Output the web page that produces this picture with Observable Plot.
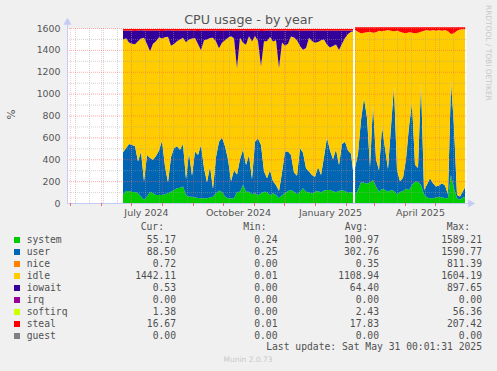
<!DOCTYPE html>
<html><head><meta charset="utf-8">
<script src="https://cdn.jsdelivr.net/npm/d3@7"></script>
<script src="https://cdn.jsdelivr.net/npm/@observablehq/plot@0.6"></script>
<style>
html,body{margin:0;padding:0;background:#f0f0f0;}
#wrap{position:relative;width:497px;height:371px;overflow:hidden;font-family:"DejaVu Sans",sans-serif;}
#wrap svg{position:absolute;left:0;top:0;}
.t{position:absolute;white-space:pre;}
.mono{font-family:"DejaVu Sans Mono",monospace;font-size:9.7px;line-height:12px;color:#505050;}
</style></head><body><div id="wrap"></div>
<script>
// ---- data ----
const dates = [
"2024-06-23","2024-06-26","2024-06-29","2024-07-02","2024-07-05","2024-07-08","2024-07-11","2024-07-14","2024-07-17","2024-07-20",
"2024-07-23","2024-07-26","2024-07-29","2024-08-01","2024-08-04","2024-08-07","2024-08-10","2024-08-13","2024-08-16","2024-08-19",
"2024-08-22","2024-08-25","2024-08-28","2024-08-31","2024-09-03","2024-09-06","2024-09-09","2024-09-12","2024-09-15","2024-09-18",
"2024-09-21","2024-09-24","2024-09-27","2024-09-30","2024-10-03","2024-10-06","2024-10-09","2024-10-12","2024-10-15","2024-10-18",
"2024-10-21","2024-10-24","2024-10-27","2024-10-30","2024-11-02","2024-11-05","2024-11-08","2024-11-11","2024-11-14","2024-11-17",
"2024-11-20","2024-11-23","2024-11-26","2024-11-29","2024-12-02","2024-12-05","2024-12-08","2024-12-11","2024-12-14","2024-12-17",
"2024-12-20","2024-12-23","2024-12-26","2024-12-29","2025-01-01","2025-01-04","2025-01-07","2025-01-10","2025-01-13","2025-01-16",
"2025-01-19","2025-01-22","2025-01-25","2025-01-28","2025-01-31","2025-02-03","2025-02-06","2025-02-08",
"2025-02-10","2025-02-13","2025-02-16","2025-02-19","2025-02-22","2025-02-25","2025-02-28","2025-03-03","2025-03-06","2025-03-09",
"2025-03-12","2025-03-15","2025-03-18","2025-03-21","2025-03-24","2025-03-27","2025-03-30","2025-04-02","2025-04-05","2025-04-08",
"2025-04-11","2025-04-14","2025-04-17","2025-04-20","2025-04-23","2025-04-26","2025-04-29","2025-05-02","2025-05-05","2025-05-08",
"2025-05-11","2025-05-14","2025-05-17","2025-05-20","2025-05-23","2025-05-26","2025-05-29","2025-05-31"
];
const system = [
74,110,110,100,100,90,60,30,60,104, 90,74,74,74,80,90,104,120,135,140, 150,70,58,58,50,45,43,43,43,50,
58,90,115,100,60,43,43,43,100,104, 165,104,104,80,90,70,90,104,100,70, 90,73,43,70,90,110,120,104,80,104,
134,104,96,88,104,110,97,115,120,120, 108,99,112,115,110,92,101,96,
73,120,190,185,175,190,210,150,104,130, 120,104,120,110,80,100,110,130,120,165, 195,195,165,80,50,43,43,50,58,50,
45,43,256,130,43,30,50,55
];
const user = [
389,390,430,430,420,290,410,170,380,307, 305,356,406,496,254,100,316,380,383,347, 390,150,402,192,420,395,487,277,147,284,
72,330,445,500,460,357,157,257,160,296, 325,243,336,140,470,520,440,186,126,230, 110,92,67,210,380,360,319,176,170,396,
326,213,191,168,136,220,159,305,480,360, 292,391,235,425,450,388,349,204,
247,330,570,775,605,140,690,250,196,570, 380,206,580,960,220,100,120,270,580,755, 155,125,935,40,120,183,137,100,102,130,
115,37,854,570,30,30,60,89
];
const idle = [
1032,1007,928,926,932,1099,1035,1311,1014,976, 1062,1050,1035,935,1182,1329,1017,954,960,1009, 970,1250,1035,1254,1039,1013,866,1168,1305,1174,
1381,1057,854,866,968,1110,1324,1206,972,1110, 975,1101,1085,1257,968,889,717,1188,1253,1218, 1276,1322,1122,1187,968,986,1083,1234,1237,935,
941,1101,1224,1226,1226,1143,1231,1075,847,941, 1035,959,1053,917,948,1066,1115,1268,
1261,1116,791,596,781,1236,656,1161,1276,871, 1076,1271,876,501,1276,1366,1326,1151,861,636, 1201,1236,466,1456,1411,1350,1401,1426,1421,1396,
1421,1491,436,851,1503,1526,1478,1445
];
const iowait = [
82,67,110,120,120,98,75,67,120,189, 120,98,60,67,60,60,140,120,98,82, 67,105,82,75,67,120,180,90,82,67,
67,100,160,110,90,67,55,70,342,67, 113,128,52,98,50,98,326,98,98,60, 100,90,342,110,140,120,55,65,90,140,
175,159,67,95,110,105,90,80,130,155, 143,128,174,120,70,30,12,10,
0,0,0,0,0,0,0,0,0,0, 0,0,0,0,0,0,0,0,0,0, 0,0,0,0,0,0,0,0,0,0,
0,0,0,0,0,0,0,0
];
const steal = [
15,18,14,16,20,15,12,14,18,16, 15,14,17,20,16,13,15,18,16,14, 15,17,15,13,16,19,16,14,15,17,
14,15,18,16,14,15,13,16,18,15, 14,16,15,17,14,15,19,16,15,14, 16,15,18,15,14,16,15,13,15,17,
16,15,14,15,16,14,15,17,15,16, 14,15,18,15,14,16,15,14,
25,40,55,50,45,40,50,45,30,35, 30,25,30,35,30,40,50,55,45,50, 55,50,40,30,25,30,25,30,25,30,
25,35,60,55,30,20,18,17
];
const gapDate = "2025-02-09"; // no data recorded around this day

const seriesNames  = ["system","user","nice","idle","iowait","irq","softirq","steal","guest"];
const seriesColors = ["#00CC00","#0066B3","#FF8000","#FFCC00","#330099","#990099","#CCFF00","#FF0000","#808080"];
const curValues = [55.17, 88.50, 0.72, 1442.11, 0.53, 0.00, 1.38, 16.67, 0.00];
const minValues = [0.24, 0.25, 0.00, 0.01, 0.00, 0.00, 0.00, 0.01, 0.00];
const avgValues = [100.97, 302.76, 0.35, 1108.94, 64.40, 0.00, 2.43, 17.83, 0.00];
const maxValues = [1589.21, 1590.77, 811.39, 1604.19, 897.65, 0.00, 56.36, 207.42, 0.00];
const legendHeaders = ["Cur:", "Min:", "Avg:", "Max:"];

const yTickValues = [0, 200, 400, 600, 800, 1000, 1200, 1400, 1600];
const yMinorValues = [100, 300, 500, 700, 900, 1100, 1300, 1500];
const xLabelDates = ["2024-07-16", "2024-10-16", "2025-01-16", "2025-04-16"];
const xTickLabels = ["July 2024", "October 2024", "January 2025", "April 2025"];

const titleText = "CPU usage - by year";
const yLabelText = "%";
const sideText = "RRDTOOL / TOBI OETIKER";
const lastUpdateText = "Last update: Sat May 31 00:01:31 2025";
const footerText = "Munin 2.0.73";

// ---- build ----
const xStart = new Date("2024-04-28"), xEnd = new Date("2025-06-01");
const arrowX = new Date("2025-06-05");
const gap = new Date(gapDate);
const drawn = [["system", system], ["user", user], ["idle", idle], ["iowait", iowait], ["steal", steal]];
const rows = [];
for (const [name, vals] of drawn) {
  dates.forEach((d, i) => {
    const date = new Date(d);
    rows.push({date, series: name, key: name + (date < gap ? "-a" : "-b"), value: vals[i]});
  });
}
const majorGridX = d3.utcMonth.range(new Date("2024-05-01"), xEnd);
const minorGridX = d3.utcDay.range(new Date("2024-05-06"), xEnd, 14);
const labelByTime = new Map(xLabelDates.map((d, i) => [+new Date(d), xTickLabels[i]]));

const minorColor = "rgba(160,160,160,0.45)";
const majorColorH = "rgba(255,90,90,0.5)";
const majorColorV = "rgba(255,90,90,0.3)";
const axisColor = "#c4ccf5";

const chart = Plot.plot({
  width: 497, height: 225,
  marginLeft: 67, marginRight: 31, marginTop: 28, marginBottom: 22,
  style: {background: "transparent", fontFamily: "DejaVu Sans", fontSize: "9.4px", overflow: "visible"},
  x: {type: "utc", domain: [xStart, xEnd]},
  y: {domain: [0, 1600]},
  color: {type: "ordinal", domain: seriesNames, range: seriesColors},
  marks: [
    Plot.frame({fill: "white", stroke: "none"}),
    Plot.areaY(rows, {x: "date", y: "value", z: "key", fill: "series"}),
    Plot.ruleX(minorGridX, {stroke: minorColor, strokeDasharray: "1,1"}),
    Plot.ruleY(yMinorValues, {stroke: minorColor, strokeDasharray: "1,1"}),
    Plot.ruleX(majorGridX, {stroke: majorColorV, strokeDasharray: "1,1"}),
    Plot.ruleY(yTickValues.filter(v => v > 0), {stroke: majorColorH, strokeDasharray: "1,1"}),
    Plot.ruleY([0], {x1: xStart, x2: arrowX, stroke: axisColor}),
    Plot.ruleX([xStart], {y1: 0, y2: 1640, stroke: axisColor}),
    Plot.dot([0], {x: [arrowX], y: [0], symbol: "triangle", r: 3, fill: axisColor, stroke: "none", rotate: 90}),
    Plot.dot([0], {x: [xStart], y: [1655], symbol: "triangle", r: 3, fill: axisColor, stroke: "none"}),
    Plot.axisY(yTickValues, {tickSize: 0, tickPadding: 7, fill: "#555", fontSize: 9.4, label: null, tickFormat: d => String(d)}),
    Plot.axisX(majorGridX, {tickSize: 3, stroke: "#e07070", tickFormat: () => "", label: null}),
    Plot.axisX(xLabelDates.map(d => new Date(d)), {tickSize: 0, tickPadding: 6, fill: "#555", fontSize: 9.5,
      tickFormat: d => labelByTime.get(+d), label: null})
  ]
});

const wrap = document.getElementById("wrap");
wrap.appendChild(chart);

function addText(txt, cls, style) {
  const el = document.createElement("div");
  el.className = "t " + (cls || "");
  el.textContent = txt;
  Object.assign(el.style, style);
  wrap.appendChild(el);
  return el;
}
addText(titleText, "", {left: "0px", top: "12px", width: "497px", textAlign: "center", fontSize: "12.7px", lineHeight: "15px", color: "#555"});
addText(yLabelText, "", {left: "1px", top: "108px", width: "20px", height: "13px", lineHeight: "13px", textAlign: "center", fontSize: "10.5px", color: "#555", transform: "rotate(-90deg)"});
addText(sideText, "", {left: "484px", top: "5px", writingMode: "vertical-rl", fontSize: "7.45px", lineHeight: "9px", color: "#c8c8c8"});

const valueRight = [176, 277.5, 379, 482];
const headerRight = [164, 266.5, 368, 470];
legendHeaders.forEach((h, j) => addText(h, "mono", {right: (497 - headerRight[j]) + "px", top: "221px"}));
const cols = [curValues, minValues, avgValues, maxValues];
seriesNames.forEach((name, i) => {
  const yc = 240 + 12 * i;
  const sw = document.createElement("div");
  Object.assign(sw.style, {position: "absolute", left: "14px", top: (yc - 3) + "px", width: "6px", height: "6px", background: seriesColors[i]});
  wrap.appendChild(sw);
  addText(name, "mono", {left: "26.7px", top: (yc - 6) + "px"});
  cols.forEach((arr, j) => addText(arr[i].toFixed(2), "mono", {right: (497 - valueRight[j]) + "px", top: (yc - 6) + "px"}));
});
addText(lastUpdateText, "mono", {right: (497 - 482) + "px", top: "341.3px"});
addText(footerText, "", {left: "0px", width: "496px", textAlign: "center", top: "355px", fontSize: "7.5px", lineHeight: "10px", color: "#c8c8c8"});
</script>
</body></html>
